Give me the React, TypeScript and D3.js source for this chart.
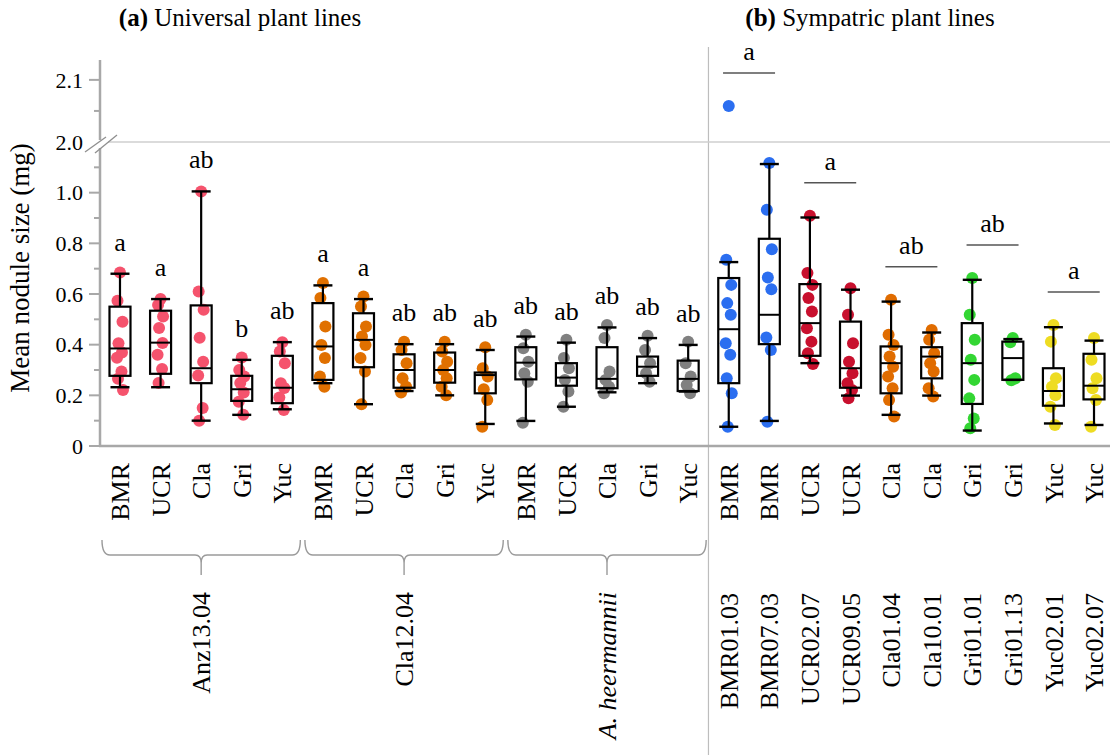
import React from "react";
import * as d3 from "d3";

// ---- data -------------------------------------------------------------
const universalHosts = ["Anz13.04", "Cla12.04", "A. heermannii"];
const soilSites = ["BMR", "UCR", "Cla", "Gri", "Yuc"];
const universalColors = ["#F5536D", "#E07000", "#808080"];

// Whisker low, Q1, median, Q3, whisker high (mg), by host then site
const universalBoxes = [
  [0.232, 0.277, 0.385, 0.55, 0.68],
  [0.232, 0.285, 0.408, 0.534, 0.58],
  [0.1, 0.248, 0.307, 0.555, 1.005],
  [0.123, 0.178, 0.224, 0.277, 0.34],
  [0.145, 0.169, 0.23, 0.356, 0.41],
  [0.248, 0.261, 0.393, 0.564, 0.634],
  [0.165, 0.311, 0.419, 0.524, 0.58],
  [0.217, 0.23, 0.3, 0.362, 0.402],
  [0.2, 0.25, 0.3, 0.369, 0.402],
  [0.087, 0.208, 0.28, 0.29, 0.379],
  [0.099, 0.263, 0.329, 0.39, 0.432],
  [0.155, 0.238, 0.27, 0.327, 0.408],
  [0.212, 0.228, 0.265, 0.39, 0.468],
  [0.248, 0.277, 0.313, 0.353, 0.426],
  [0.215, 0.217, 0.265, 0.337, 0.399],
];

const universalPoints = [
  [0.685, 0.573, 0.49, 0.406, 0.369, 0.348, 0.294, 0.265, 0.221],
  [0.58, 0.557, 0.511, 0.466, 0.407, 0.36, 0.304, 0.249],
  [1.005, 0.61, 0.538, 0.427, 0.333, 0.278, 0.15, 0.1],
  [0.349, 0.3, 0.274, 0.249, 0.211, 0.175, 0.123],
  [0.41, 0.373, 0.327, 0.248, 0.229, 0.191, 0.142],
  [0.643, 0.584, 0.472, 0.399, 0.347, 0.274, 0.234],
  [0.59, 0.551, 0.472, 0.432, 0.399, 0.347, 0.294, 0.165],
  [0.412, 0.379, 0.327, 0.267, 0.234, 0.211],
  [0.412, 0.373, 0.333, 0.3, 0.267, 0.234, 0.2],
  [0.39, 0.307, 0.274, 0.224, 0.182, 0.076],
  [0.439, 0.386, 0.333, 0.287, 0.254, 0.092],
  [0.419, 0.347, 0.307, 0.261, 0.215, 0.155],
  [0.478, 0.426, 0.294, 0.261, 0.234, 0.208],
  [0.435, 0.379, 0.327, 0.287, 0.254],
  [0.412, 0.327, 0.274, 0.241, 0.208],
];

const universalLetters = [
  "a", "a", "ab", "b", "ab",
  "a", "a", "ab", "ab", "ab",
  "ab", "ab", "ab", "ab", "ab",
];

const sympatricLines = [
  "BMR01.03", "BMR07.03", "UCR02.07", "UCR09.05", "Cla01.04",
  "Cla10.01", "Gri01.01", "Gri01.13", "Yuc02.01", "Yuc02.07",
];
const sympatricSites = ["BMR", "BMR", "UCR", "UCR", "Cla", "Cla", "Gri", "Gri", "Yuc", "Yuc"];
const siteColors: Record<string, string> = {
  BMR: "#2B6EF0",
  UCR: "#C8102E",
  Cla: "#E06C00",
  Gri: "#33D633",
  Yuc: "#EEDC22",
};

const sympatricBoxes = [
  [0.076, 0.248, 0.461, 0.663, 0.726],
  [0.099, 0.402, 0.518, 0.818, 1.113],
  [0.327, 0.356, 0.485, 0.639, 0.902],
  [0.199, 0.23, 0.307, 0.491, 0.617],
  [0.123, 0.208, 0.327, 0.393, 0.57],
  [0.199, 0.267, 0.353, 0.39, 0.448],
  [0.061, 0.166, 0.327, 0.485, 0.656],
  [0.261, 0.261, 0.347, 0.412, 0.422],
  [0.089, 0.159, 0.217, 0.307, 0.469],
  [0.083, 0.184, 0.238, 0.364, 0.416],
];

const sympatricPoints = [
  [2.058, 0.735, 0.636, 0.564, 0.518, 0.406, 0.36, 0.267, 0.208, 0.076],
  [1.117, 0.933, 0.777, 0.665, 0.619, 0.428, 0.379, 0.096],
  [0.909, 0.683, 0.636, 0.584, 0.531, 0.465, 0.412, 0.366, 0.324],
  [0.623, 0.518, 0.406, 0.333, 0.287, 0.248, 0.221, 0.188],
  [0.577, 0.439, 0.399, 0.353, 0.313, 0.274, 0.228, 0.182, 0.116],
  [0.458, 0.419, 0.366, 0.327, 0.294, 0.228, 0.195],
  [0.663, 0.518, 0.419, 0.34, 0.261, 0.188, 0.109, 0.07],
  [0.426, 0.41, 0.267, 0.26],
  [0.478, 0.412, 0.267, 0.234, 0.2, 0.155, 0.083],
  [0.426, 0.34, 0.267, 0.228, 0.182, 0.076],
];

// one letter per sympatric pair (same soil site)
const sympatricLetters = ["a", "a", "ab", "ab", "a"];

const lowerTicks = [0, 0.2, 0.4, 0.6, 0.8, 1.0];
const lowerMinorTicks = [0.1, 0.3, 0.5, 0.7, 0.9, 1.1];
const upperTicks = [2.1];
const upperMinorTicks = [2.05];

// ---- layout -----------------------------------------------------------
const W = 1110;
const H = 755;
const FONT = "Liberation Serif, Times New Roman, serif";
const AXIS = "#A8A8A8";

const yLower = d3.scaleLinear().domain([0, 1.2]).range([446, 142]);
const yUpper = d3.scaleLinear().domain([2.0, 2.132]).range([142, 60]);
const y = (v: number) => (v >= 1.5 ? yUpper(v) : yLower(v));

type Cat = {
  id: string;
  site: string;
  color: string;
  box: number[];
  points: number[];
};

const cats: Cat[] = [];
universalHosts.forEach((h, hi) =>
  soilSites.forEach((s, si) => {
    const k = hi * soilSites.length + si;
    cats.push({
      id: `${h}|${s}`,
      site: s,
      color: universalColors[hi],
      box: universalBoxes[k],
      points: universalPoints[k],
    });
  })
);
sympatricLines.forEach((l, i) =>
  cats.push({
    id: l,
    site: sympatricSites[i],
    color: siteColors[sympatricSites[i]],
    box: sympatricBoxes[i],
    points: sympatricPoints[i],
  })
);

const x = d3
  .scaleBand<string>()
  .domain(cats.map((c) => c.id))
  .range([99.7, 1114.3])
  .padding(0);
const cx = (id: string) => (x(id) as number) + x.bandwidth() / 2;

// small horizontal spread so overlapping points stay visible
const jitter = [0, -2.5, 2.5, -1.5, 2, -3, 1.5, -2, 3, -1];
const BOX_W = 21;
const CAP_W = 19;

function T(props: React.SVGProps<SVGTextElement>) {
  return <text fontFamily={FONT} fill="#000" {...props} />;
}

function Brace({ x0, x1 }: { x0: number; x1: number }) {
  const m = (x0 + x1) / 2;
  const d = `M${x0},540 Q${x0},555 ${x0 + 8},555 H${m - 6} Q${m},555 ${m},563 V575 M${m},563 Q${m},555 ${m + 6},555 H${x1 - 8} Q${x1},555 ${x1},540`;
  return <path d={d} fill="none" stroke="#9A9A9A" strokeWidth={1.4} />;
}

export default function App() {
  const nUni = universalHosts.length * soilSites.length;
  const sepX = x(cats[nUni].id) as number;

  return (
    <svg
      width={W}
      height={H}
      style={{ position: "absolute", left: 0, top: 0, background: "#fff", fontFamily: FONT }}
    >
      {/* panel titles */}
      <T x={240} y={26} fontSize={25} textAnchor="middle">
        <tspan fontWeight="bold">(a)</tspan> Universal plant lines
      </T>
      <T x={870} y={26} fontSize={25} textAnchor="middle">
        <tspan fontWeight="bold">(b)</tspan> Sympatric plant lines
      </T>

      {/* panel separator */}
      <line x1={sepX} x2={sepX} y1={47} y2={H} stroke="#BDBDBD" strokeWidth={1.2} />

      {/* axis break line and baseline */}
      <line x1={108} x2={W} y1={yLower(1.2)} y2={yLower(1.2)} stroke="#CFCFCF" strokeWidth={1.5} />
      <line x1={99} x2={W} y1={yLower(0)} y2={yLower(0)} stroke={AXIS} strokeWidth={2.5} />

      {/* y axis */}
      <line x1={100} x2={100} y1={yUpper(2.132)} y2={140} stroke={AXIS} strokeWidth={2.5} />
      <line x1={100} x2={100} y1={148} y2={yLower(0)} stroke={AXIS} strokeWidth={2.5} />
      <line x1={85} y1={152} x2={106} y2={137} stroke="#8F8F8F" strokeWidth={1.3} />
      <line x1={95} y1={153} x2={117} y2={135} stroke="#8F8F8F" strokeWidth={1.3} />
      {lowerTicks.map((t) => (
        <g key={`lt${t}`}>
          <line x1={89} x2={100} y1={yLower(t)} y2={yLower(t)} stroke={AXIS} strokeWidth={2} />
          <T x={83} y={yLower(t)} dy="0.35em" fontSize={22} textAnchor="end">
            {t === 0 ? "0" : d3.format(".1f")(t)}
          </T>
        </g>
      ))}
      {lowerMinorTicks.map((t) => (
        <line key={`lm${t}`} x1={94} x2={100} y1={yLower(t)} y2={yLower(t)} stroke={AXIS} strokeWidth={2} />
      ))}
      {upperTicks.map((t) => (
        <g key={`ut${t}`}>
          <line x1={89} x2={100} y1={yUpper(t)} y2={yUpper(t)} stroke={AXIS} strokeWidth={2} />
          <T x={83} y={yUpper(t)} dy="0.35em" fontSize={22} textAnchor="end">
            {d3.format(".1f")(t)}
          </T>
        </g>
      ))}
      {upperMinorTicks.map((t) => (
        <line key={`um${t}`} x1={94} x2={100} y1={yUpper(t)} y2={yUpper(t)} stroke={AXIS} strokeWidth={2} />
      ))}
      <T x={83} y={yLower(1.2)} dy="0.35em" fontSize={22} textAnchor="end">
        2.0
      </T>
      <T transform={`translate(29,268) rotate(-90)`} fontSize={27} textAnchor="middle">
        Mean nodule size (mg)
      </T>

      {/* points, then boxes over them */}
      {cats.map((c) => {
        const c0 = cx(c.id);
        return (
          <g key={`p${c.id}`}>
            {c.points.map((v, i) => (
              <circle key={i} cx={c0 + jitter[i % jitter.length]} cy={y(v)} r={6} fill={c.color} />
            ))}
          </g>
        );
      })}
      {cats.map((c) => {
        const c0 = cx(c.id);
        const [lo, q1, med, q3, hi] = c.box;
        return (
          <g key={`b${c.id}`} stroke="#000" fill="none">
            <line x1={c0} x2={c0} y1={y(hi)} y2={y(q3)} strokeWidth={2.2} />
            <line x1={c0} x2={c0} y1={y(q1)} y2={y(lo)} strokeWidth={2.2} />
            <line x1={c0 - CAP_W / 2} x2={c0 + CAP_W / 2} y1={y(hi)} y2={y(hi)} strokeWidth={2.4} />
            <line x1={c0 - CAP_W / 2} x2={c0 + CAP_W / 2} y1={y(lo)} y2={y(lo)} strokeWidth={2.4} />
            <rect x={c0 - BOX_W / 2} y={y(q3)} width={BOX_W} height={y(q1) - y(q3)} strokeWidth={2.2} />
            <line x1={c0 - BOX_W / 2} x2={c0 + BOX_W / 2} y1={y(med)} y2={y(med)} strokeWidth={2} />
          </g>
        );
      })}

      {/* significance letters, universal lines */}
      {cats.slice(0, nUni).map((c, i) => (
        <T key={`l${c.id}`} x={cx(c.id)} y={y(c.box[4]) - 23} fontSize={26} textAnchor="middle">
          {universalLetters[i]}
        </T>
      ))}

      {/* significance bars, sympatric pairs */}
      {sympatricLetters.map((L, k) => {
        const a = cats[nUni + 2 * k];
        const b = cats[nUni + 2 * k + 1];
        const top = d3.max([...a.points, ...b.points, a.box[4], b.box[4]]) as number;
        const ly = y(top) - 33;
        const mid = (cx(a.id) + cx(b.id)) / 2;
        return (
          <g key={`s${k}`}>
            <line x1={mid - 26} x2={mid + 26} y1={ly} y2={ly} stroke="#555" strokeWidth={1.5} />
            <T x={mid} y={ly - 13} fontSize={26} textAnchor="middle">
              {L}
            </T>
          </g>
        );
      })}

      {/* category labels */}
      {cats.map((c) => (
        <T
          key={`c${c.id}`}
          transform={`translate(${cx(c.id)},463) rotate(-90)`}
          dy="0.35em"
          fontSize={26}
          textAnchor="end"
        >
          {c.site}
        </T>
      ))}

      {/* host brackets and names, universal panel */}
      {universalHosts.map((h, hi) => {
        const first = cats[hi * soilSites.length].id;
        const last = cats[hi * soilSites.length + soilSites.length - 1].id;
        const x0 = cx(first) - 18;
        const x1 = cx(last) + 18;
        const m = (x0 + x1) / 2;
        const italic = h.startsWith("A.");
        return (
          <g key={`h${h}`}>
            <Brace x0={x0} x1={x1} />
            <T
              transform={`translate(${m},592) rotate(-90)`}
              dy="0.35em"
              fontSize={26}
              textAnchor="end"
              fontStyle={italic ? "italic" : "normal"}
            >
              {h}
            </T>
          </g>
        );
      })}

      {/* line names, sympatric panel */}
      {sympatricLines.map((l) => (
        <T
          key={`n${l}`}
          transform={`translate(${cx(l)},593) rotate(-90)`}
          dy="0.35em"
          fontSize={26}
          textAnchor="end"
        >
          {l}
        </T>
      ))}
    </svg>
  );
}
